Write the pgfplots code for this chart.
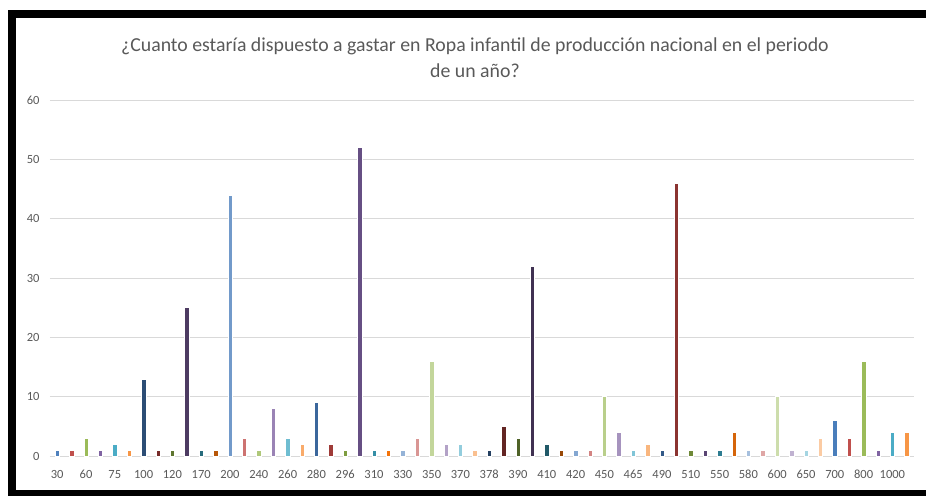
\documentclass[border=0pt]{standalone}
\usepackage{pgfplots}
\pgfplotsset{compat=1.18}
\usepackage{fontspec}
\setmainfont{Carlito}
\definecolor{txt}{HTML}{595959}
\definecolor{grd}{HTML}{D9D9D9}
% group 1
\definecolor{c1}{HTML}{4F81BD}\definecolor{c2}{HTML}{C0504D}\definecolor{c3}{HTML}{9BBB59}
\definecolor{c4}{HTML}{8064A2}\definecolor{c5}{HTML}{4BACC6}\definecolor{c6}{HTML}{F79646}
% group 2
\definecolor{c7}{HTML}{2C4D75}\definecolor{c8}{HTML}{772C2A}\definecolor{c9}{HTML}{5F7630}
\definecolor{c10}{HTML}{4D3B62}\definecolor{c11}{HTML}{276B7C}\definecolor{c12}{HTML}{B75708}
% group 3
\definecolor{c13}{HTML}{729ACA}\definecolor{c14}{HTML}{CD7371}\definecolor{c15}{HTML}{AFC87A}
\definecolor{c16}{HTML}{9A83B5}\definecolor{c17}{HTML}{6FBDD1}\definecolor{c18}{HTML}{F9AB6B}
% group 4
\definecolor{c19}{HTML}{3B679C}\definecolor{c20}{HTML}{9F3B38}\definecolor{c21}{HTML}{7E9D40}
\definecolor{c22}{HTML}{664F83}\definecolor{c23}{HTML}{358EA6}\definecolor{c24}{HTML}{F4740A}
% group 5
\definecolor{c25}{HTML}{95B3D7}\definecolor{c26}{HTML}{D99694}\definecolor{c27}{HTML}{C3D69B}
\definecolor{c28}{HTML}{B3A2C7}\definecolor{c29}{HTML}{93CDDD}\definecolor{c30}{HTML}{FAC090}
% group 6
\definecolor{c31}{HTML}{254061}\definecolor{c32}{HTML}{632523}\definecolor{c33}{HTML}{4F6228}
\definecolor{c34}{HTML}{403152}\definecolor{c35}{HTML}{215968}\definecolor{c36}{HTML}{984807}
% group 7
\definecolor{c37}{HTML}{84A7D1}\definecolor{c38}{HTML}{D38482}\definecolor{c39}{HTML}{B9CF8B}
\definecolor{c40}{HTML}{A693BE}\definecolor{c41}{HTML}{81C5D7}\definecolor{c42}{HTML}{F9B67E}
% group 8
\definecolor{c43}{HTML}{335A88}\definecolor{c44}{HTML}{8B3431}\definecolor{c45}{HTML}{6F8938}
\definecolor{c46}{HTML}{5A4573}\definecolor{c47}{HTML}{2E7C91}\definecolor{c48}{HTML}{D5650A}
% group 9
\definecolor{c49}{HTML}{A7C0DE}\definecolor{c50}{HTML}{DFA7A6}\definecolor{c51}{HTML}{CDDDAC}
\definecolor{c52}{HTML}{C0B2D1}\definecolor{c53}{HTML}{A5D5E2}\definecolor{c54}{HTML}{FBCBA3}
% group 10
\definecolor{c55}{HTML}{4A7EBB}\definecolor{c56}{HTML}{C0504D}\definecolor{c57}{HTML}{9BBB59}
\definecolor{c58}{HTML}{8064A2}\definecolor{c59}{HTML}{4BACC6}\definecolor{c60}{HTML}{F79646}
\pgfplotsset{bb/.style={ybar, bar width=0.31, fill=#1, draw=white, line width=0.4pt}}
\begin{document}
\begin{tikzpicture}
\begin{axis}[
  scale only axis, width=864pt, height=356pt,
  xmin=-0.5, xmax=59.5, ymin=0, ymax=60,
  ytick={0,10,20,30,40,50,60},
  xtick={0,2,...,58},
  xticklabels={30,60,75,100,120,170,200,240,260,280,296,310,330,350,370,378,390,410,420,450,465,490,510,550,580,600,650,700,800,1000},
  major tick length=0pt,
  axis line style={draw=none},
  ymajorgrids, grid style={grd, line width=1pt},
  /pgf/number format/assume math mode=true,
  tick label style={text=txt, font=\fontsize{12.5}{14}\selectfont},
  yticklabel style={xshift=-7pt},
  xticklabel style={yshift=-10pt, text height=9pt, text depth=2pt},
  clip=false,
]
\coordinate (SW) at (axis description cs:0,0);
\addplot[bb=c1] coordinates {(0,1)};
\addplot[bb=c2] coordinates {(1,1)};
\addplot[bb=c3] coordinates {(2,3)};
\addplot[bb=c4] coordinates {(3,1)};
\addplot[bb=c5] coordinates {(4,2)};
\addplot[bb=c6] coordinates {(5,1)};
\addplot[bb=c7] coordinates {(6,13)};
\addplot[bb=c8] coordinates {(7,1)};
\addplot[bb=c9] coordinates {(8,1)};
\addplot[bb=c10] coordinates {(9,25)};
\addplot[bb=c11] coordinates {(10,1)};
\addplot[bb=c12] coordinates {(11,1)};
\addplot[bb=c13] coordinates {(12,44)};
\addplot[bb=c14] coordinates {(13,3)};
\addplot[bb=c15] coordinates {(14,1)};
\addplot[bb=c16] coordinates {(15,8)};
\addplot[bb=c17] coordinates {(16,3)};
\addplot[bb=c18] coordinates {(17,2)};
\addplot[bb=c19] coordinates {(18,9)};
\addplot[bb=c20] coordinates {(19,2)};
\addplot[bb=c21] coordinates {(20,1)};
\addplot[bb=c22] coordinates {(21,52)};
\addplot[bb=c23] coordinates {(22,1)};
\addplot[bb=c24] coordinates {(23,1)};
\addplot[bb=c25] coordinates {(24,1)};
\addplot[bb=c26] coordinates {(25,3)};
\addplot[bb=c27] coordinates {(26,16)};
\addplot[bb=c28] coordinates {(27,2)};
\addplot[bb=c29] coordinates {(28,2)};
\addplot[bb=c30] coordinates {(29,1)};
\addplot[bb=c31] coordinates {(30,1)};
\addplot[bb=c32] coordinates {(31,5)};
\addplot[bb=c33] coordinates {(32,3)};
\addplot[bb=c34] coordinates {(33,32)};
\addplot[bb=c35] coordinates {(34,2)};
\addplot[bb=c36] coordinates {(35,1)};
\addplot[bb=c37] coordinates {(36,1)};
\addplot[bb=c38] coordinates {(37,1)};
\addplot[bb=c39] coordinates {(38,10)};
\addplot[bb=c40] coordinates {(39,4)};
\addplot[bb=c41] coordinates {(40,1)};
\addplot[bb=c42] coordinates {(41,2)};
\addplot[bb=c43] coordinates {(42,1)};
\addplot[bb=c44] coordinates {(43,46)};
\addplot[bb=c45] coordinates {(44,1)};
\addplot[bb=c46] coordinates {(45,1)};
\addplot[bb=c47] coordinates {(46,1)};
\addplot[bb=c48] coordinates {(47,4)};
\addplot[bb=c49] coordinates {(48,1)};
\addplot[bb=c50] coordinates {(49,1)};
\addplot[bb=c51] coordinates {(50,10)};
\addplot[bb=c52] coordinates {(51,1)};
\addplot[bb=c53] coordinates {(52,1)};
\addplot[bb=c54] coordinates {(53,3)};
\addplot[bb=c55] coordinates {(54,6)};
\addplot[bb=c56] coordinates {(55,3)};
\addplot[bb=c57] coordinates {(56,16)};
\addplot[bb=c58] coordinates {(57,1)};
\addplot[bb=c59] coordinates {(58,4)};
\addplot[bb=c60] coordinates {(59,4)};
\end{axis}
\begin{scope}[shift={(SW)}, x=1pt, y=1pt]
\path (-50,-40) rectangle (876,456);
\fill[black] (-42,-40) rectangle (-34,446);
\fill[black] (-42,438) rectangle (876,446);
\fill[black] (-42,-40) rectangle (876,-34);
\node[text=txt, font=\fontsize{19.8}{26}\selectfont, align=center] at (425,398)
  {¿Cuanto estaría dispuesto a gastar en Ropa infantil de producción nacional en el periodo\\de un año?};
\end{scope}
\end{tikzpicture}
\end{document}
